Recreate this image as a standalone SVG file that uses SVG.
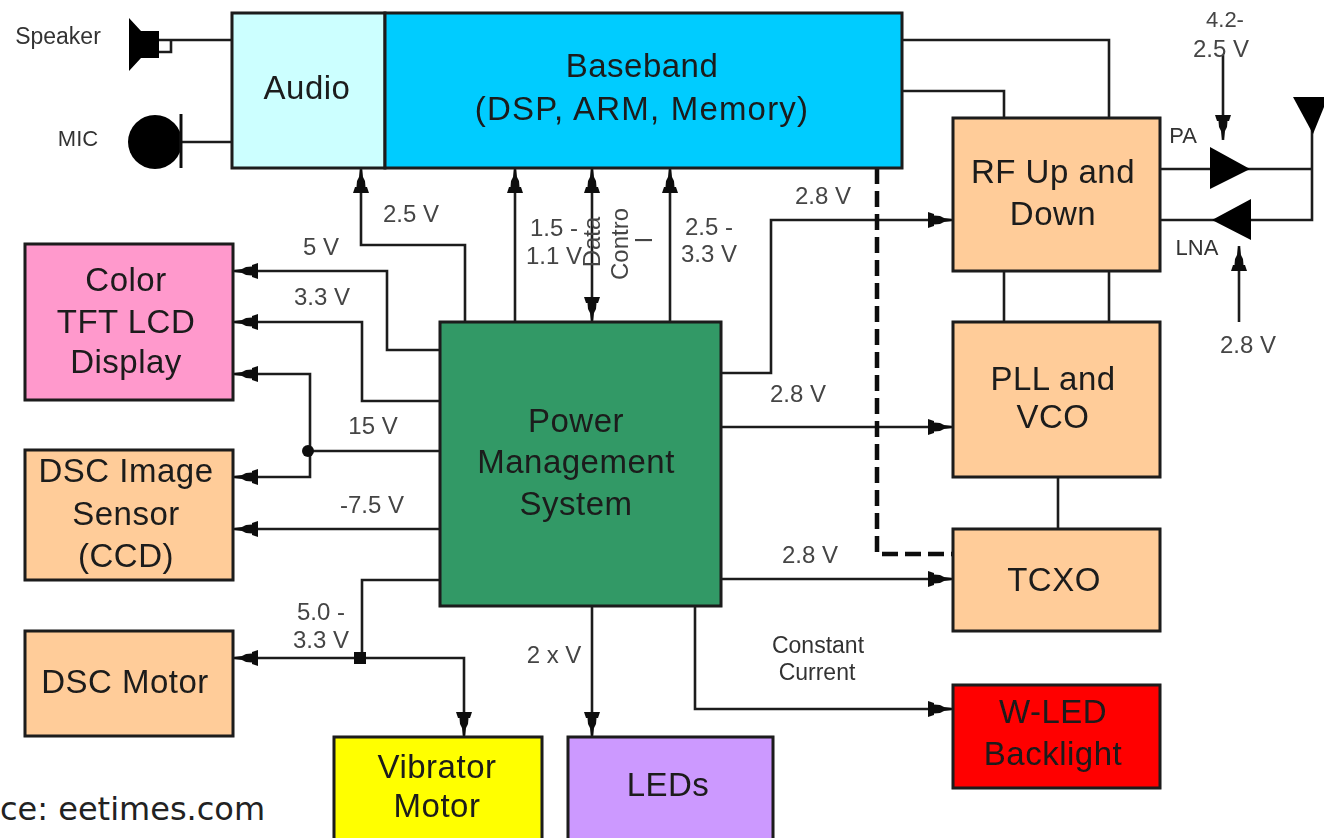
<svg xmlns="http://www.w3.org/2000/svg" width="1324" height="838" viewBox="0 0 1324 838">
<style>
text{font-family:"Liberation Sans",Arial,sans-serif;text-anchor:middle}
.n{font-size:33px;fill:#1a1a1a;letter-spacing:.5px}
.l{font-size:24px;fill:#444}
.s{font-size:22px;fill:#333}
.b{stroke:#1a1a1a;stroke-width:3}
.c{fill:none;stroke:#1a1a1a;stroke-width:2.6}
.e{marker-end:url(#a)}
.d{marker-start:url(#a)}
</style>
<defs>
<filter id="soft" x="0" y="0" width="100%" height="100%"><feGaussianBlur stdDeviation="0.6"/></filter>
<marker id="a" markerUnits="userSpaceOnUse" markerWidth="27" markerHeight="18" refX="26" refY="9" orient="auto-start-reverse"><path d="M1 1V17L7 15V13.500L13 13L17 11L25 10V8L17 7L13 5L7 4.500V3Z" fill="#111"/></marker>
</defs>
<rect width="1324" height="838" fill="#fff"/>
<g filter="url(#soft)">
<g id="connectors">
<path class="c" d="M171 40H232M158 40H171V52H158M181 142H232"/>
<path class="c e" d="M465 322V245H361V168"/>
<path class="c e" d="M515 322V168"/>
<path class="c e d" d="M592 168V322"/>
<path class="c e" d="M670 322V168"/>
<path class="c e" d="M440 350H387V271H233"/>
<path class="c e" d="M440 401H362V322H233"/>
<path class="c" d="M440 451H308"/>
<path class="c e" d="M310 451V374H233"/>
<path class="c e" d="M310 451V477H233"/>
<path class="c e" d="M440 529H233"/>
<path class="c" d="M440 580H362V658"/>
<path class="c e" d="M360 658H233"/>
<path class="c e" d="M360 658H464V737"/>
<path class="c e" d="M721 373H771V220H953"/>
<path class="c e" d="M721 427H953"/>
<path class="c e" d="M721 579H953"/>
<path class="c e" d="M592 606V737"/>
<path class="c e" d="M695 606V709H953"/>
<path class="c" d="M902 40H1109V118M902 91H1004V118M1004 271V322M1109 271V322M1058 477V529"/>
<path d="M877 168V554H953" fill="none" stroke="#111" stroke-width="4.500" stroke-dasharray="16 7"/>
<path class="c" d="M1160 169H1312V110M1160 220H1312V169"/>
<path class="c e" d="M1223 55V140"/>
<path class="c e" d="M1239 322V246"/>
<path d="M1210 147L1250 169L1210 189ZM1251 199V240L1212 220Z" fill="#000"/>
<path d="M1293 97H1324V107L1313 134Z" fill="#000"/>
<circle cx="308" cy="451" r="6" fill="#111"/>
<rect x="354" y="652" width="12" height="12" fill="#111"/>
</g>
<g id="speaker"><path d="M129 18L141 31H159V58H141L129 71Z" fill="#000"/><text class="s" x="58" y="44" style="font-size:23px">Speaker</text></g>
<g id="mic"><circle cx="155" cy="142" r="27" fill="#000"/><path d="M181 114V168" stroke="#111" stroke-width="3"/><text class="s" x="78" y="146" style="font-size:22px">MIC</text></g>
<g id="audio"><rect class="b" x="232" y="13" width="153" height="155" fill="#ccffff"/><text class="n" x="307" y="99">Audio</text></g>
<g id="baseband"><rect class="b" x="385" y="13" width="517" height="155" fill="#00ccff"/><text class="n" x="642" y="77">Baseband</text><text class="n" x="642" y="120" style="letter-spacing:1.200px">(DSP, ARM, Memory)</text></g>
<g id="lcd"><rect class="b" x="25" y="244" width="208" height="156" fill="#ff99cc"/><text class="n" x="126" y="291">Color</text><text class="n" x="126" y="333">TFT LCD</text><text class="n" x="126" y="373">Display</text></g>
<g id="ccd"><rect class="b" x="25" y="450" width="208" height="130" fill="#ffcc99"/><text class="n" x="126" y="482">DSC Image</text><text class="n" x="126" y="525">Sensor</text><text class="n" x="126" y="567">(CCD)</text></g>
<g id="dsc-motor"><rect class="b" x="25" y="631" width="208" height="105" fill="#ffcc99"/><text class="n" x="125" y="693">DSC Motor</text></g>
<g id="vibrator"><rect class="b" x="334" y="737" width="208" height="106" fill="#ffff00"/><text class="n" x="437" y="778">Vibrator</text><text class="n" x="437" y="817">Motor</text></g>
<g id="leds"><rect class="b" x="568" y="737" width="205" height="106" fill="#cc99ff"/><text class="n" x="668" y="796">LEDs</text></g>
<g id="wled"><rect class="b" x="953" y="685" width="207" height="103" fill="#ff0000"/><text class="n" x="1053" y="723">W-LED</text><text class="n" x="1053" y="765">Backlight</text></g>
<g id="tcxo"><rect class="b" x="953" y="529" width="207" height="102" fill="#ffcc99"/><text class="n" x="1054" y="591">TCXO</text></g>
<g id="pll"><rect class="b" x="953" y="322" width="207" height="155" fill="#ffcc99"/><text class="n" x="1053" y="390">PLL and</text><text class="n" x="1053" y="428">VCO</text></g>
<g id="rf"><rect class="b" x="953" y="118" width="207" height="153" fill="#ffcc99"/><text class="n" x="1053" y="183">RF Up and</text><text class="n" x="1053" y="225">Down</text></g>
<g id="pms"><rect class="b" x="440" y="322" width="281" height="284" fill="#339966"/><text class="n" x="576" y="432">Power</text><text class="n" x="576" y="473">Management</text><text class="n" x="576" y="515">System</text></g>
<g id="labels">
<text class="l" x="411" y="222">2.5 V</text>
<text class="l" x="321" y="255">5 V</text>
<text class="l" x="322" y="305">3.3 V</text>
<text class="l" x="373" y="434">15 V</text>
<text class="l" x="372" y="513">-7.5 V</text>
<text class="l" x="321" y="620">5.0 -</text>
<text class="l" x="321" y="648">3.3 V</text>
<text class="l" x="554" y="236">1.5 -</text>
<text class="l" x="554" y="264">1.1 V</text>
<text class="l" x="709" y="235">2.5 -</text>
<text class="l" x="709" y="262">3.3 V</text>
<text class="l" x="823" y="204">2.8 V</text>
<text class="l" x="798" y="402">2.8 V</text>
<text class="l" x="810" y="563">2.8 V</text>
<text class="l" x="554" y="663">2 x V</text>
<text class="s" x="818" y="653" style="font-size:23px">Constant</text>
<text class="s" x="817" y="680" style="font-size:23px">Current</text>
<text class="l" x="1225" y="27" style="font-size:22px">4.2-</text>
<text class="l" x="1221" y="57">2.5 V</text>
<text class="s" x="1183" y="143">PA</text>
<text class="s" x="1197" y="255">LNA</text>
<text class="l" x="1248" y="353">2.8 V</text>
<text class="l" transform="translate(600 242) rotate(-90)">Data</text>
<text class="l" transform="translate(628 244) rotate(-90)">Contro</text>
<text class="l" transform="translate(652 240) rotate(-90)">l</text>
</g>
</g>
<text x="0" y="820" style="text-anchor:start;font-family:'DejaVu Sans',sans-serif;font-size:32px;fill:#222">ce: eetimes.com</text>
</svg>
